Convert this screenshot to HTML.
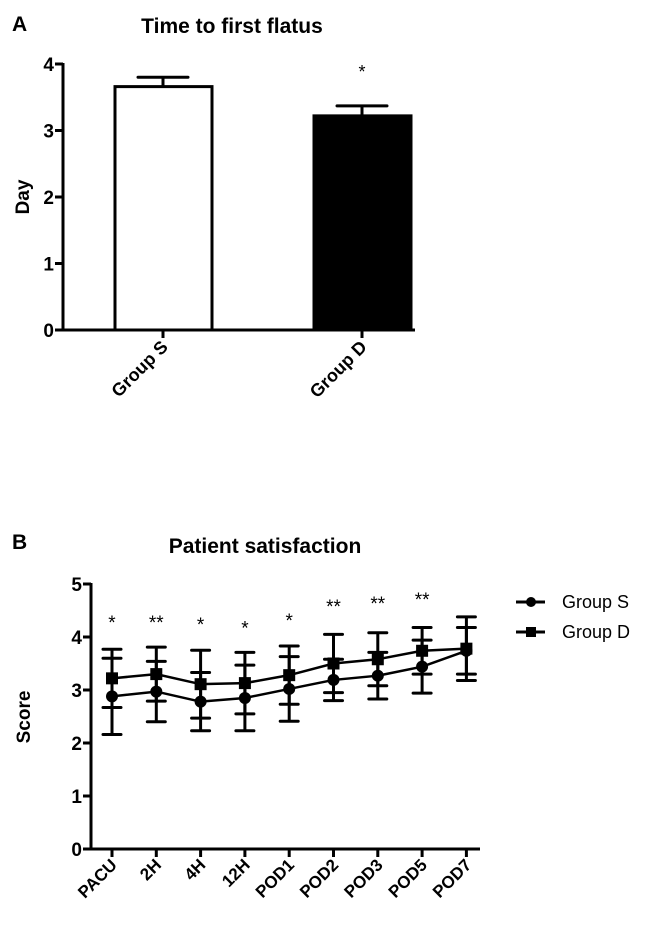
<!DOCTYPE html>
<html><head><meta charset="utf-8"><style>
body{margin:0;background:#fff;}
svg text{font-family:"Liberation Sans",Arial,sans-serif;fill:#000;}
.b{font-weight:bold;}
</style></head><body>
<svg id="svg" width="650" height="925" viewBox="0 0 650 925" xmlns="http://www.w3.org/2000/svg">
<text x="12" y="31" class="b" font-size="21">A</text>
<text x="232" y="33" class="b" font-size="21" text-anchor="middle">Time to first flatus</text>
<text class="b" font-size="19" transform="translate(29,197) rotate(-90)" text-anchor="middle">Day</text>
<g id="ca"></g>
<text x="12" y="549" class="b" font-size="21">B</text>
<text x="265" y="553" class="b" font-size="21" text-anchor="middle">Patient satisfaction</text>
<text class="b" font-size="19" transform="translate(30,717) rotate(-90)" text-anchor="middle">Score</text>
<g id="cb"></g>
<g>
<g>
<line x1="516" y1="602" x2="545" y2="602" stroke="#000" stroke-width="3"/><circle cx="531" cy="602" r="5"/>
<text x="562" y="608" font-size="18">Group S</text></g>
<g>
<line x1="516" y1="632" x2="545" y2="632" stroke="#000" stroke-width="3"/><rect x="526" y="627" width="10" height="10"/>
<text x="562" y="638" font-size="18">Group D</text></g>
</g>
</svg>
<script>
const aCats=["Group S","Group D"];
const aVals=[3.66,3.22];
const aErr=[0.14,0.15];
const aSig=["","*"];
const aTicks=[0,1,2,3,4];
const bCats=["PACU","2H","4H","12H","POD1","POD2","POD3","POD5","POD7"];
const bS=[2.88,2.97,2.78,2.85,3.02,3.19,3.27,3.44,3.74];
const bSerr=[0.72,0.57,0.55,0.62,0.61,0.39,0.44,0.50,0.44];
const bD=[3.22,3.30,3.11,3.13,3.28,3.50,3.58,3.74,3.78];
const bDerr=[0.55,0.51,0.64,0.58,0.55,0.55,0.50,0.44,0.60];
const bSig=["*","**","*","*","*","**","**","**",""];
const bSigY=[4.3,4.3,4.26,4.2,4.34,4.6,4.66,4.74,0];
const bTicks=[0,1,2,3,4,5];
const NS="http://www.w3.org/2000/svg";
function mk(p,t,a){const e=document.createElementNS(NS,t);for(const k in a)e.setAttribute(k,a[k]);p.appendChild(e);return e;}
// chart A
const ca=document.getElementById('ca');
const ayA=v=>330-v*66.5;
const axA=i=>163+i*199;
aCats.forEach((c,i)=>{
 const x=axA(i),h=ayA(0)-ayA(aVals[i]);
 const g=mk(ca,'g',{});
 
 
 mk(g,'line',{x1:x,y1:ayA(aVals[i]),x2:x,y2:ayA(aVals[i]+aErr[i]),stroke:'#000','stroke-width':3});
 mk(g,'line',{x1:x-25,y1:ayA(aVals[i]+aErr[i]),x2:x+25,y2:ayA(aVals[i]+aErr[i]),stroke:'#000','stroke-width':3,'stroke-linecap':'round'});
 mk(g,'rect',{x:x-48,y:ayA(aVals[i]),width:97,height:h,fill:i?'#000':'#fff',stroke:'#000','stroke-width':3});
 if(aSig[i]){const t=mk(g,'text',{x:x,y:ayA(aVals[i]+aErr[i])-28,'font-size':18,'text-anchor':'middle'});t.textContent=aSig[i];}
 mk(ca,'line',{x1:x,y1:330,x2:x,y2:338,stroke:'#000','stroke-width':3});
 const lt=mk(ca,'text',{'font-size':18,class:'b','text-anchor':'end',transform:`translate(${x+6},${348}) rotate(-45)`});
 
 
 lt.textContent=c;
});
mk(ca,'line',{x1:63,y1:63,x2:63,y2:331,stroke:'#000','stroke-width':3});
mk(ca,'line',{x1:55,y1:330,x2:415,y2:330,stroke:'#000','stroke-width':3});
aTicks.forEach(v=>{mk(ca,'line',{x1:55,y1:ayA(v),x2:63,y2:ayA(v),stroke:'#000','stroke-width':3});
 const t=mk(ca,'text',{x:54,y:ayA(v)+7,'font-size':19,class:'b','text-anchor':'end'});
 
 
 t.textContent=v;});
// chart B
const cb=document.getElementById('cb');
const ayB=v=>849-v*53;
const axB=i=>112+i*44.3;
mk(cb,'line',{x1:91,y1:583,x2:91,y2:850,stroke:'#000','stroke-width':3});
mk(cb,'line',{x1:83,y1:849,x2:480,y2:849,stroke:'#000','stroke-width':3});
bTicks.forEach(v=>{mk(cb,'line',{x1:83,y1:ayB(v),x2:91,y2:ayB(v),stroke:'#000','stroke-width':3});
 const t=mk(cb,'text',{x:82,y:ayB(v)+7,'font-size':19,class:'b','text-anchor':'end'});
 
 
 t.textContent=v;});
bCats.forEach((c,i)=>{const x=axB(i);
 mk(cb,'line',{x1:x,y1:849,x2:x,y2:857,stroke:'#000','stroke-width':3});
 const t=mk(cb,'text',{'font-size':17,class:'b','text-anchor':'end',transform:`translate(${x+6},${866}) rotate(-45)`});
 
 
 t.textContent=c;
 if(bSig[i]){const s=mk(cb,'text',{x:x,y:ayB(bSigY[i])+8,'font-size':19,'text-anchor':'middle'});
  
  
  s.textContent=bSig[i];}
});
function series(vals,errs,name,sq){
 const g=mk(cb,'g',{});
 
 
 vals.forEach((v,i)=>{const x=axB(i);
  mk(g,'line',{x1:x,y1:ayB(v-errs[i]),x2:x,y2:ayB(v+errs[i]),stroke:'#000','stroke-width':3});
  [v-errs[i],v+errs[i]].forEach(e=>mk(g,'line',{x1:x-9,y1:ayB(e),x2:x+9,y2:ayB(e),stroke:'#000','stroke-width':3,'stroke-linecap':'round'}));
 });
 mk(g,'polyline',{points:vals.map((v,i)=>axB(i)+','+ayB(v)).join(' '),fill:'none',stroke:'#000','stroke-width':2.5});
 vals.forEach((v,i)=>{const x=axB(i),y=ayB(v);
  if(sq)mk(g,'rect',{x:x-6,y:y-6,width:12,height:12});else mk(g,'circle',{cx:x,cy:y,r:6});});
}
series(bS,bSerr,'series-group-s',false);
series(bD,bDerr,'series-group-d',true);
</script>
</body></html>
